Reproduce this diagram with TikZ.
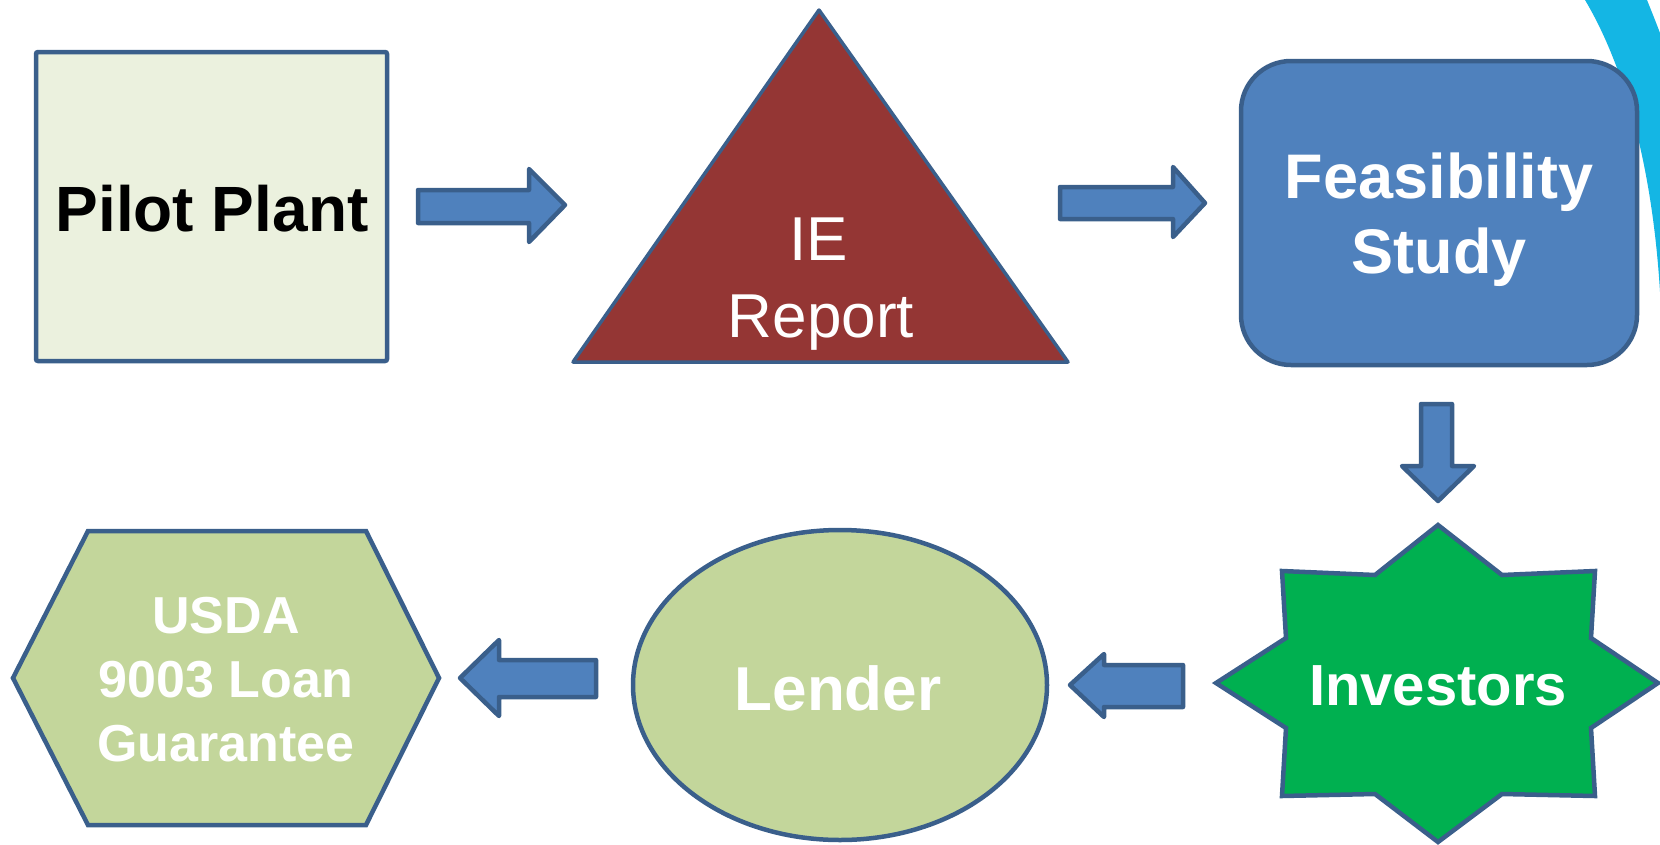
\documentclass[tikz,border=0pt]{standalone}
\usepackage{fontspec}
\setmainfont{Liberation Sans}
\definecolor{outl}{RGB}{58,95,139}
\definecolor{pilotfill}{RGB}{235,241,222}
\definecolor{trifill}{RGB}{148,54,52}
\definecolor{bluefill}{RGB}{79,129,189}
\definecolor{starfill}{RGB}{0,176,80}
\definecolor{greenfill}{RGB}{195,214,155}
\definecolor{swoosh}{RGB}{20,182,228}
\tikzset{
  shp/.style={draw=outl, line width=4.5pt, line join=miter},
  blockarrow/.style={draw=outl, fill=bluefill, line width=4.5pt, line join=round},
  lbl/.style={inner sep=0pt, anchor=base, text=white},
}
\newcommand{\fs}[1]{\fontsize{#1}{#1}\selectfont}
\begin{document}
\begin{tikzpicture}[x=1pt, y=-1pt]
\useasboundingbox (0,0) rectangle (1660,844);
% swoosh in the corner
\fill[swoosh] (1585,0) .. controls (1622,62) and (1652,160) .. (1660,292) -- (1660,33) .. controls (1655,20) .. (1647,0) -- cycle;

% Pilot Plant
\draw[shp, fill=pilotfill, rounded corners=2pt] (36,52) rectangle (387,361);
\node[lbl, text=black, font=\bfseries\fs{64}] (pilot) at (212,231) {Pilot Plant};

% IE Report triangle
\draw[shp, fill=trifill, line join=round, line width=3.5pt] (819,10) -- (1068,362) -- (573,362) -- cycle;
\node[lbl, font=\fs{62}] (ie) at (819,260) {IE};
\node[lbl, font=\fs{62}] (report) at (821,337) {Report};

% Feasibility Study
\draw[shp, fill=bluefill, rounded corners=50pt] (1241,61) rectangle (1637,365);
\node[lbl, font=\bfseries\fs{63}] (feas) at (1439,198) {Feasibility};
\node[lbl, font=\bfseries\fs{63}] (study) at (1439,273) {Study};

% Investors star
\draw[shp, fill=starfill] (1438,525) -- (1502,575) -- (1595,571) -- (1591,638) -- (1658,683)
  -- (1591,728) -- (1595,796) -- (1502,794) -- (1438,842) -- (1375,794) -- (1282,796)
  -- (1286,728) -- (1216,683) -- (1286,638) -- (1282,571) -- (1375,575) -- cycle;
\node[lbl, font=\bfseries\fs{58}] (inv) at (1438,705) {Investors};

% Lender ellipse
\draw[shp, fill=greenfill] (840,685) ellipse [x radius=207, y radius=155];
\node[lbl, font=\bfseries\fs{62}] (lender) at (838,710) {Lender};

% USDA hexagon
\draw[shp, fill=greenfill] (13,678) -- (88,531) -- (366,531) -- (439,678) -- (366,825) -- (88,825) -- cycle;
\node[lbl, font=\bfseries\fs{52}] (usda1) at (226,633) {USDA};
\node[lbl, font=\bfseries\fs{52}] (usda2) at (226,697) {9003 Loan};
\node[lbl, font=\bfseries\fs{52}] (usda3) at (226,761) {Guarantee};

% block arrows
\draw[blockarrow] (418,190) -- (529,190) -- (529,169) -- (565,205) -- (529,242) -- (529,223) -- (418,223) -- cycle;
\draw[blockarrow] (1060,187) -- (1173,187) -- (1173,167) -- (1205,203) -- (1173,237) -- (1173,219) -- (1060,219) -- cycle;
\draw[blockarrow] (1421,404) -- (1452,404) -- (1452,466) -- (1474,466) -- (1438,501) -- (1402,466) -- (1421,466) -- cycle;
\draw[blockarrow] (1183,665) -- (1104,665) -- (1104,654) -- (1070,685) -- (1104,717) -- (1104,707) -- (1183,707) -- cycle;
\draw[blockarrow] (596,660) -- (499,660) -- (499,640) -- (460,678) -- (499,716) -- (499,697) -- (596,697) -- cycle;
\end{tikzpicture}
\end{document}
